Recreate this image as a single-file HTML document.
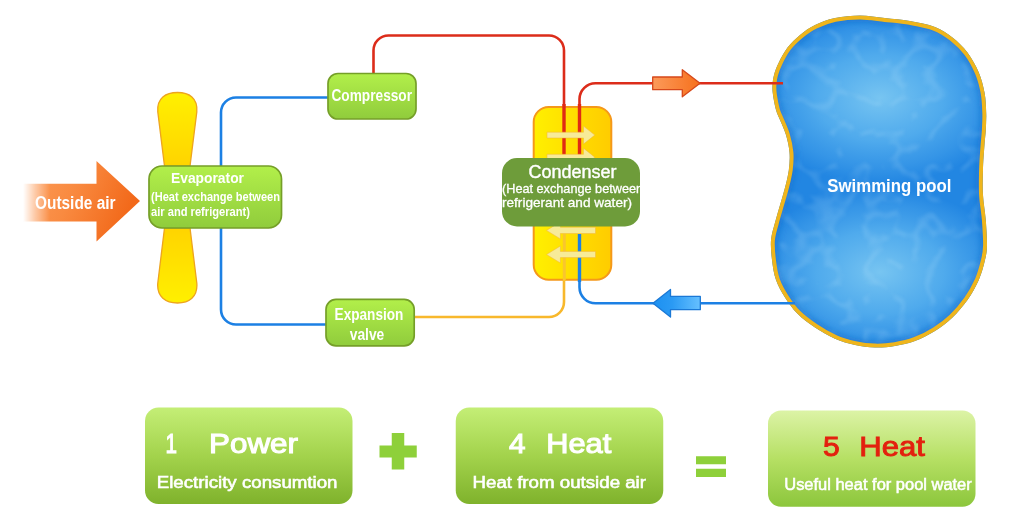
<!DOCTYPE html>
<html lang="en">
<head>
<meta charset="utf-8">
<title>Heat pump working principle</title>
<style>
html,body{margin:0;padding:0;background:#fff;}
body{width:1024px;height:520px;overflow:hidden;position:relative;font-family:"Liberation Sans",Arial,sans-serif;}
svg{position:absolute;left:0;top:0;display:block;filter:blur(.7px);}
text{font-family:"Liberation Sans",Arial,sans-serif;}
.w{fill:#fff;}
.lbl{fill:#fff;stroke:#fff;stroke-width:.5;paint-order:stroke;}
.b{fill:#fff;font-weight:bold;}
</style>
</head>
<body>
<svg width="1024" height="520" viewBox="0 0 1024 520">
<defs>
  <linearGradient id="gBox" x1="0" y1="0" x2="0" y2="1">
    <stop offset="0" stop-color="#b2ef4a"/><stop offset="1" stop-color="#90cc3c"/>
  </linearGradient>
  <linearGradient id="gBig" x1="0" y1="0" x2="0" y2="1">
    <stop offset="0" stop-color="#c4ee76"/><stop offset=".5" stop-color="#a3d34c"/><stop offset="1" stop-color="#7fb22c"/>
  </linearGradient>
  <linearGradient id="gBig3" x1="0" y1="0" x2="0" y2="1">
    <stop offset="0" stop-color="#dcf3a6"/><stop offset=".5" stop-color="#b6e064"/><stop offset="1" stop-color="#8cc63c"/>
  </linearGradient>
  <linearGradient id="gAir" x1="0" y1="0" x2="1" y2=".3">
    <stop offset="0" stop-color="#fd9e5c"/><stop offset=".5" stop-color="#f98a40"/><stop offset="1" stop-color="#f2691a"/>
  </linearGradient>
  <linearGradient id="gYel" x1="0" y1="0" x2="1" y2="0">
    <stop offset="0" stop-color="#fff000"/><stop offset="1" stop-color="#ffcc00"/>
  </linearGradient>
  <linearGradient id="gFan" x1="0" y1="0" x2="0" y2="1">
    <stop offset="0" stop-color="#fff000"/><stop offset="1" stop-color="#ffd400"/>
  </linearGradient>
  <linearGradient id="gFan2" x1="0" y1="0" x2="0" y2="1">
    <stop offset="0" stop-color="#ffd400"/><stop offset="1" stop-color="#fff000"/>
  </linearGradient>
  <linearGradient id="gRedA" x1="0" y1="0" x2="1" y2="0">
    <stop offset="0" stop-color="#fc9a5a"/><stop offset="1" stop-color="#f6701c"/>
  </linearGradient>
  <linearGradient id="gBlueA" x1="0" y1="0" x2="1" y2="0">
    <stop offset="0" stop-color="#1c90f0"/><stop offset=".4" stop-color="#2a9af4"/><stop offset="1" stop-color="#66c0ff"/>
  </linearGradient>
  <radialGradient id="gPoolA" cx=".5" cy=".5" r=".5">
    <stop offset="0" stop-color="#7cc8f2" stop-opacity=".95"/><stop offset=".5" stop-color="#5eb6f0" stop-opacity=".76"/><stop offset=".8" stop-color="#52acee" stop-opacity=".4"/><stop offset="1" stop-color="#52acee" stop-opacity="0"/>
  </radialGradient>
  <path id="pPool" d="M772.5 85.0 C772.7 81.7 773.0 78.8 774.0 75.0 C775.0 71.2 776.5 67.1 778.8 62.5 C781.0 57.9 784.0 52.1 787.5 47.5 C791.0 42.9 795.4 38.8 800.0 35.0 C804.6 31.2 809.2 27.8 815.0 25.0 C820.8 22.2 827.5 19.6 835.0 18.0 C842.5 16.4 851.7 15.5 860.0 15.5 C868.3 15.5 876.7 17.1 885.0 18.0 C893.3 18.9 901.7 19.5 910.0 21.0 C918.3 22.5 927.9 24.2 935.0 27.0 C942.1 29.8 947.1 33.2 952.5 37.5 C957.9 41.8 963.1 46.7 967.5 52.5 C971.9 58.3 975.9 65.8 978.8 72.5 C981.6 79.2 983.2 85.8 984.5 92.5 C985.8 99.2 986.0 106.2 986.2 112.5 C986.5 118.8 986.0 124.6 985.8 130.0 C985.5 135.4 985.0 138.3 984.5 145.0 C984.0 151.7 983.2 161.7 983.0 170.0 C982.8 178.3 982.5 186.7 983.0 195.0 C983.5 203.3 985.1 211.7 985.8 220.0 C986.4 228.3 987.1 238.3 987.0 245.0 C986.9 251.7 986.4 254.2 985.0 260.0 C983.6 265.8 981.7 273.3 978.8 280.0 C975.8 286.7 971.9 293.8 967.5 300.0 C963.1 306.2 957.9 312.3 952.5 317.5 C947.1 322.7 941.2 327.1 935.0 331.0 C928.8 334.9 921.7 338.5 915.0 341.0 C908.3 343.5 901.7 344.9 895.0 346.0 C888.3 347.1 881.7 347.7 875.0 347.5 C868.3 347.3 861.7 346.5 855.0 345.0 C848.3 343.5 841.7 341.7 835.0 338.8 C828.3 335.8 821.2 331.7 815.0 327.5 C808.8 323.3 802.5 318.8 797.5 313.8 C792.5 308.8 788.6 303.1 785.0 297.5 C781.4 291.9 778.2 286.2 776.0 280.0 C773.8 273.8 772.8 266.7 772.0 260.0 C771.2 253.3 770.5 246.2 771.0 240.0 C771.5 233.8 773.5 228.3 775.0 222.5 C776.5 216.7 778.3 210.8 780.0 205.0 C781.7 199.2 783.5 193.3 785.0 187.5 C786.5 181.7 788.0 175.8 788.8 170.0 C789.5 164.2 790.0 158.3 789.5 152.5 C789.0 146.7 787.6 140.4 786.0 135.0 C784.4 129.6 781.7 124.2 780.0 120.0 C778.3 115.8 777.2 114.2 776.0 110.0 C774.8 105.8 773.6 99.2 773.0 95.0 C772.4 90.8 772.3 88.3 772.5 85.0 Z"/>
  <clipPath id="cPool"><use href="#pPool"/></clipPath>
  <filter id="fBlur3" x="-20%" y="-20%" width="140%" height="140%"><feGaussianBlur stdDeviation="3"/></filter>
  <clipPath id="cCond"><rect x="502" y="158" width="138.500" height="68.500"/></clipPath>
  <filter id="fCaus" x="0" y="0" width="100%" height="100%" color-interpolation-filters="sRGB">
    <feTurbulence type="turbulence" baseFrequency="0.03" numOctaves="2" seed="11" result="t"/>
    <feColorMatrix in="t" type="matrix" values="0 0 0 0 0.8  0 0 0 0 0.93  0 0 0 0 1  -6 0 0 0 1.25"/>
    <feGaussianBlur stdDeviation="1.6"/>
  </filter>
  <linearGradient id="gAirM" gradientUnits="userSpaceOnUse" x1="23" y1="0" x2="50" y2="0">
    <stop offset="0" stop-color="#fff" stop-opacity="0"/><stop offset=".45" stop-color="#fff" stop-opacity=".5"/><stop offset="1" stop-color="#fff" stop-opacity="1"/>
  </linearGradient>
  <mask id="mAir" maskUnits="userSpaceOnUse" x="0" y="150" width="160" height="110"><rect x="0" y="150" width="160" height="110" fill="url(#gAirM)"/></mask>
</defs>

<!-- pool -->
<g clip-path="url(#cPool)">
  <use href="#pPool" fill="#2286e2"/>
  <ellipse cx="880" cy="98" rx="128" ry="86" fill="url(#gPoolA)"/>
  <ellipse cx="880" cy="272" rx="128" ry="84" fill="url(#gPoolA)"/>
  <rect x="765" y="10" width="230" height="345" filter="url(#fCaus)" opacity=".15"/>
  <use href="#pPool" fill="none" stroke="#1468c8" stroke-opacity=".5" stroke-width="13" filter="url(#fBlur3)"/>
  <use href="#pPool" fill="none" stroke="#efb51c" stroke-width="7.800"/>
</g>
<text x="827.300" y="191.500" font-size="19" font-weight="bold" class="w" textLength="124" lengthAdjust="spacingAndGlyphs">Swimming pool</text>

<!-- pipes -->
<g fill="none" stroke-width="2.600" stroke-linecap="butt">
  <path d="M328 97.500 H236 A15 15 0 0 0 221 112.500 V309.500 A15 15 0 0 0 236 324.500 H328" stroke="#1c80e4"/>
  <path d="M373.500 75 V50.500 A15 15 0 0 1 388.500 35.500 H549 A15 15 0 0 1 564 50.500 V156" stroke="#dc2c1a"/>
  <path d="M579.500 156 V99 A16 16 0 0 1 595.500 83.250 H783" stroke="#dc2c1a"/>
  <path d="M414 317 H549 A15 15 0 0 0 564 302 V280" stroke="#f8b82c"/>
  <path d="M795 303.250 H595.500 A16 16 0 0 1 579.500 287.250 V232" stroke="#1c80e4"/>
</g>

<!-- fan blades -->
<path d="M164.500 166 L157.800 112 C156.500 98 166 92.500 177.500 92.500 C189 92.500 198 98 196.800 112 L190 166 Z" fill="url(#gFan)" stroke="#eda41e" stroke-width="1.300"/>
<path d="M164.500 228 L157.800 283 C156.500 297 166 303 177.500 303 C189 303 198 297 196.800 283 L190 228 Z" fill="url(#gFan2)" stroke="#eda41e" stroke-width="1.300"/>

<!-- outside air arrow -->
<path d="M22 183.700 H96.500 V161 L140 201 L96.500 241.500 V221.600 H22 Z" fill="url(#gAir)" mask="url(#mAir)"/>
<text x="35" y="208.700" font-size="18" class="b" textLength="80.500" lengthAdjust="spacingAndGlyphs">Outside air</text>

<!-- evaporator -->
<rect x="149" y="166" width="132.500" height="62" rx="13" fill="url(#gBox)" stroke="#759f28" stroke-width="1.700"/>
<text x="171" y="183.400" font-size="15" class="b" textLength="73" lengthAdjust="spacingAndGlyphs">Evaporator</text>
<text x="151" y="200.500" font-size="12" class="b" textLength="129" lengthAdjust="spacingAndGlyphs">(Heat exchange between</text>
<text x="151" y="215.700" font-size="12" class="b" textLength="99" lengthAdjust="spacingAndGlyphs">air and refrigerant)</text>

<!-- compressor -->
<rect x="328" y="73.500" width="88" height="45.500" rx="10" fill="url(#gBox)" stroke="#759f28" stroke-width="1.700"/>
<text x="331.500" y="101.400" font-size="16.500" class="b" textLength="80.500" lengthAdjust="spacingAndGlyphs">Compressor</text>

<!-- expansion valve -->
<rect x="326" y="299.400" width="88.200" height="46.400" rx="10" fill="url(#gBox)" stroke="#759f28" stroke-width="1.700"/>
<text x="334.600" y="319.700" font-size="16.500" class="b" textLength="68.800" lengthAdjust="spacingAndGlyphs">Expansion</text>
<text x="349.700" y="339.800" font-size="16.500" class="b" textLength="34.600" lengthAdjust="spacingAndGlyphs">valve</text>

<!-- condenser tank -->
<rect x="533.700" y="107" width="77.600" height="172.800" rx="15" fill="url(#gYel)" stroke="#f5981a" stroke-width="2"/>
<g stroke-width="3.400" fill="none">
  <path d="M564 104 V156" stroke="#e02a14"/>
  <path d="M579.500 104 V156" stroke="#e02a14"/>
  <path d="M564.300 234 V281" stroke="#f9c62e" stroke-width="3"/>
  <path d="M579.500 234 V282" stroke="#1c80e4"/>
</g>
<g fill="#f7eb98" stroke="#f4b63c" stroke-width=".7" stroke-opacity=".75">
  <path d="M547 132.20 H583.5 V126.10 L594.8 135.10 L583.5 144.10 V138.00 H547 Z"/>
  <path d="M547 154.30 H583.5 V148.20 L594.8 157.20 L583.5 166.20 V160.10 H547 Z"/>
  <path d="M595.5 227.30 H560.4 V221.90 L546.5 230.40 L560.4 238.90 V233.50 H595.5 Z"/>
  <path d="M595.5 251.40 H560.4 V246.00 L546.5 254.50 L560.4 263.00 V257.60 H595.5 Z"/>
</g>

<!-- condenser label -->
<rect x="502" y="158" width="138" height="68.500" rx="15" fill="#6e9c3a"/>
<text x="572.500" y="178" font-size="18" text-anchor="middle" class="w" style="stroke:#fff;stroke-width:.4">Condenser</text>
<g clip-path="url(#cCond)"><text x="502" y="192.500" font-size="12.700" class="w" style="stroke:#fff;stroke-width:.3">(Heat exchange between</text></g>
<text x="502" y="207" font-size="13" class="w" style="stroke:#fff;stroke-width:.3" textLength="130" lengthAdjust="spacingAndGlyphs">refrigerant and water)</text>

<!-- flow arrows -->
<path d="M652.700 77 H682.300 V69.700 L700 83.250 L682.300 96.800 V89.700 H652.700 Z" fill="url(#gRedA)" stroke="#d6481a" stroke-width="1.300" stroke-linejoin="round"/>
<path d="M700.300 296.400 H670.500 V289.500 L653 303.250 L670.500 317 V309.700 H700.300 Z" fill="url(#gBlueA)" stroke="#1a78d6" stroke-width="1.300" stroke-linejoin="round"/>

<!-- bottom equation -->
<rect x="145" y="407.500" width="207.500" height="96.500" rx="13.500" fill="url(#gBig)"/>
<rect x="455.750" y="407.500" width="207.500" height="96.500" rx="13.500" fill="url(#gBig)"/>
<rect x="768" y="410.500" width="207.500" height="96.250" rx="13" fill="url(#gBig3)"/>

<path d="M391.750 433 H404.250 V445.500 H416.750 V457.500 H404.250 V469.500 H391.750 V457.500 H379.500 V445.500 H391.750 Z" fill="#8ed03a"/>
<rect x="696" y="456.250" width="30" height="8" fill="#8ed03a"/>
<rect x="696" y="468.750" width="30" height="8.250" fill="#8ed03a"/>

<g class="lbl" font-size="28" style="stroke-width:1.1">
  <text x="165.500" y="453" textLength="11.500" lengthAdjust="spacingAndGlyphs">1</text>
  <text x="209" y="453" textLength="89" lengthAdjust="spacingAndGlyphs">Power</text>
  <text x="509" y="453" textLength="16.500" lengthAdjust="spacingAndGlyphs">4</text>
  <text x="546.250" y="453" textLength="65" lengthAdjust="spacingAndGlyphs">Heat</text>
</g>
<g font-size="28" fill="#e3200e" stroke="#e3200e" stroke-width=".9" style="paint-order:stroke">
  <text x="823" y="456.250" textLength="16.750" lengthAdjust="spacingAndGlyphs">5</text>
  <text x="859.250" y="456.250" textLength="65.750" lengthAdjust="spacingAndGlyphs">Heat</text>
</g>
<g class="lbl" font-size="16" style="stroke-width:.55">
  <text x="156.750" y="487.800" textLength="180.750" lengthAdjust="spacingAndGlyphs">Electricity consumtion</text>
  <text x="472.500" y="487.800" textLength="173.500" lengthAdjust="spacingAndGlyphs">Heat from outside air</text>
  <text x="784.250" y="490" textLength="187.500" lengthAdjust="spacingAndGlyphs">Useful heat for pool water</text>
</g>
</svg>
</body>
</html>
